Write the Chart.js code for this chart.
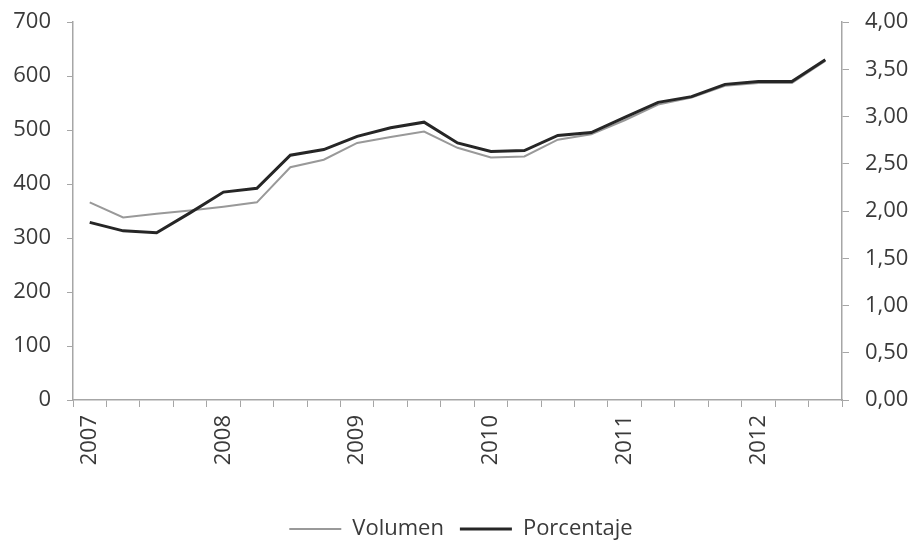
<!DOCTYPE html>
<html>
<head>
<meta charset="utf-8">
<script src="https://cdn.jsdelivr.net/npm/chart.js@4.4.1/dist/chart.umd.min.js"></script>
<style>
  html, body { margin: 0; padding: 0; background: #fff; }
  #wrap { width: 922px; height: 543px; }
</style>
</head>
<body>
<div id="wrap"><canvas id="grafico" width="922" height="543"></canvas></div>
<script>
// trimestres 2007 T1 - 2012 T3
var categories = [
  '2007 T1', '2007 T2', '2007 T3', '2007 T4',
  '2008 T1', '2008 T2', '2008 T3', '2008 T4',
  '2009 T1', '2009 T2', '2009 T3', '2009 T4',
  '2010 T1', '2010 T2', '2010 T3', '2010 T4',
  '2011 T1', '2011 T2', '2011 T3', '2011 T4',
  '2012 T1', '2012 T2', '2012 T3'
];
var volumen = [366, 338, 345, 351, 358, 366, 431, 445, 476, 487, 497, 467,
  449, 451, 482, 492, 518, 547, 560, 582, 587, 587, 628];
var porcentaje = [1.88, 1.79, 1.77, 1.98, 2.20, 2.24, 2.59, 2.65, 2.79, 2.88, 2.94, 2.72,
  2.63, 2.64, 2.80, 2.83, 2.99, 3.15, 3.21, 3.34, 3.37, 3.37, 3.60];
var leftTicks = [0, 100, 200, 300, 400, 500, 600, 700];
var rightTicks = [0, 0.5, 1, 1.5, 2, 2.5, 3, 3.5, 4];

var axisColor = '#a6a6a6';
var textColor = '#3a3a3a';
var font = { family: "'Open Sans', sans-serif", size: 22 };

var ctx = document.getElementById('grafico').getContext('2d');
var chart = new Chart(ctx, {
  type: 'line',
  data: {
    labels: categories,
    datasets: [{
      label: 'Volumen',
      data: volumen,
      yAxisID: 'y',
      borderColor: '#999999',
      borderWidth: 2,
      pointRadius: 0,
      tension: 0,
      order: 1
    }, {
      label: 'Porcentaje',
      data: porcentaje,
      yAxisID: 'y1',
      borderColor: '#262626',
      borderWidth: 3,
      pointRadius: 0,
      tension: 0,
      order: 0
    }]
  },
  options: {
    responsive: false,
    animation: false,
    layout: { padding: { top: 22, left: 0, right: 0, bottom: -7 } },
    plugins: {
      tooltip: { enabled: false },
      legend: {
        position: 'bottom',
        labels: {
          usePointStyle: true,
          pointStyle: 'line',
          pointStyleWidth: 52,
          color: textColor,
          font: font,
          padding: 16,
          sort: function (a, b) { return a.datasetIndex - b.datasetIndex; }
        }
      }
    },
    scales: {
      x: {
        offset: true,
        grid: { offset: true, drawOnChartArea: false, color: axisColor, tickLength: 7 },
        border: { color: axisColor, width: 1.5 },
        ticks: {
          autoSkip: false,
          minRotation: 90,
          maxRotation: 90,
          padding: 8,
          color: textColor,
          font: font,
          callback: function (v, i) {
            var c = categories[i];
            return c.indexOf('T1') > 0 ? c.slice(0, 4) : '';
          }
        },
        afterFit: function (s) { s.height = 102; }
      },
      y: {
        position: 'left',
        min: 0, max: 700,
        afterBuildTicks: function (s) { s.ticks = leftTicks.map(function (v) { return { value: v }; }); },
        grid: { drawOnChartArea: false, color: axisColor, tickLength: 6 },
        border: { color: axisColor, width: 1.5 },
        ticks: { color: textColor, font: font, padding: 16 },
        afterFit: function (s) { s.width = 73; s.paddingTop = 0; s.paddingBottom = 0; }
      },
      y1: {
        position: 'right',
        min: 0, max: 4,
        afterBuildTicks: function (s) { s.ticks = rightTicks.map(function (v) { return { value: v }; }); },
        grid: { drawOnChartArea: false, color: axisColor, tickLength: 7 },
        border: { color: axisColor, width: 1.5 },
        ticks: {
          color: textColor, font: font, padding: 16,
          callback: function (v) { return v.toFixed(2).replace('.', ','); }
        },
        afterFit: function (s) { s.width = 80; s.paddingTop = 0; s.paddingBottom = 0; }
      }
    }
  }
});
</script>
</body>
</html>
